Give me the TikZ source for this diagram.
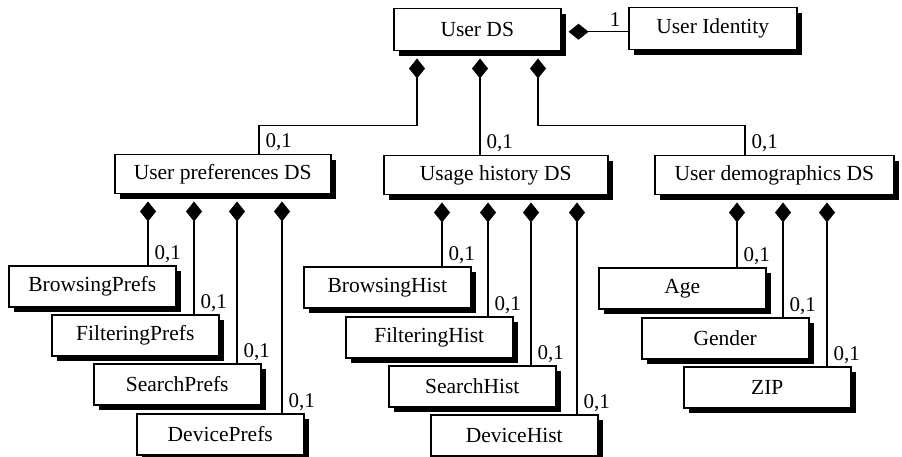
\documentclass[tikz,border=0pt]{standalone}
\usepackage{fontspec}
\setmainfont{Liberation Serif}
\usetikzlibrary{arrows.meta,calc,shadows}

\newcommand\boxfont{\fontsize{21.5}{24}\selectfont}
\newcommand\multfont{\fontsize{21}{24}\selectfont}

\tikzset{
  dsbox/.style 2 args={draw, line width=1.5pt, fill=white, anchor=north west,
    inner sep=0pt, minimum width=#1, minimum height=#2, font=\boxfont,
    drop shadow={shadow xshift=5pt, shadow yshift=-5pt, fill=black, opacity=1}},
  comp/.style={line width=1.2pt, {Diamond[length=20pt,width=16pt]}-},
  mult/.style={anchor=base west, inner sep=0pt, font=\multfont,
    xshift=6pt, yshift=6pt}
}

% composition link: diamond under #1 at offset #2, straight down to #3
\newcommand\complink[3]{%
  \draw[comp] ($(#1.south west)+(#2,7)$) coordinate (t) -- (t |- #3.north)
    node[mult] {0,1};}

\begin{document}
\begin{tikzpicture}[x=1pt,y=-1pt]
\useasboundingbox (0,0) rectangle (902,457);

% top level
\node[dsbox={167}{42}] (ud)  at (393,8)   {User DS};
\node[dsbox={168}{42}] (uid) at (628,7)   {User Identity};

% description schemes
\node[dsbox={216}{39}] (upref) at (114,154) {User preferences DS};
\node[dsbox={224}{39}] (uh)    at (383,155) {Usage history DS};
\node[dsbox={239}{39}] (udem)  at (654,155) {User demographics DS};

% preferences
\node[dsbox={167}{41}] (bp) at (8,265)   {BrowsingPrefs};
\node[dsbox={167}{41}] (fp) at (51,314)  {FilteringPrefs};
\node[dsbox={167}{41}] (sp) at (93,363)  {SearchPrefs};
\node[dsbox={167}{41}] (dp) at (136,413) {DevicePrefs};

% history
\node[dsbox={167}{41}] (bh) at (303,266) {BrowsingHist};
\node[dsbox={167}{41}] (fh) at (345,316) {FilteringHist};
\node[dsbox={167}{41}] (sh) at (388,365) {SearchHist};
\node[dsbox={167}{41}] (dh) at (430,414) {DeviceHist};

% demographics
\node[dsbox={167}{41}] (age) at (598,267) {Age};
\node[dsbox={167}{41}] (gen) at (641,317) {Gender};
\node[dsbox={167}{41}] (zip) at (683,366) {ZIP};

% User DS -> User Identity
\draw[comp] ([xshift=7pt,yshift=-2pt]ud.east) coordinate (h) -- (h -| uid.west)
  node[anchor=base east, inner sep=0pt, font=\multfont, xshift=-7pt, yshift=5pt] {1};

% User DS -> description schemes
\draw[comp] ($(ud.south west)+(24,7)$) -- ++(0,67) -| ($(upref.north west)+(145,0)$)
  node[mult] {0,1};
\complink{ud}{87}{uh}
\draw[comp] ($(ud.south west)+(145,7)$) -- ++(0,67) -| ($(udem.north west)+(91,0)$)
  node[mult] {0,1};

% preferences
\complink{upref}{34}{bp}
\complink{upref}{80}{fp}
\complink{upref}{123}{sp}
\complink{upref}{168}{dp}

% history
\complink{uh}{59}{bh}
\complink{uh}{105}{fh}
\complink{uh}{148}{sh}
\complink{uh}{194}{dh}

% demographics
\complink{udem}{83}{age}
\complink{udem}{129}{gen}
\complink{udem}{173}{zip}
\end{tikzpicture}
\end{document}
